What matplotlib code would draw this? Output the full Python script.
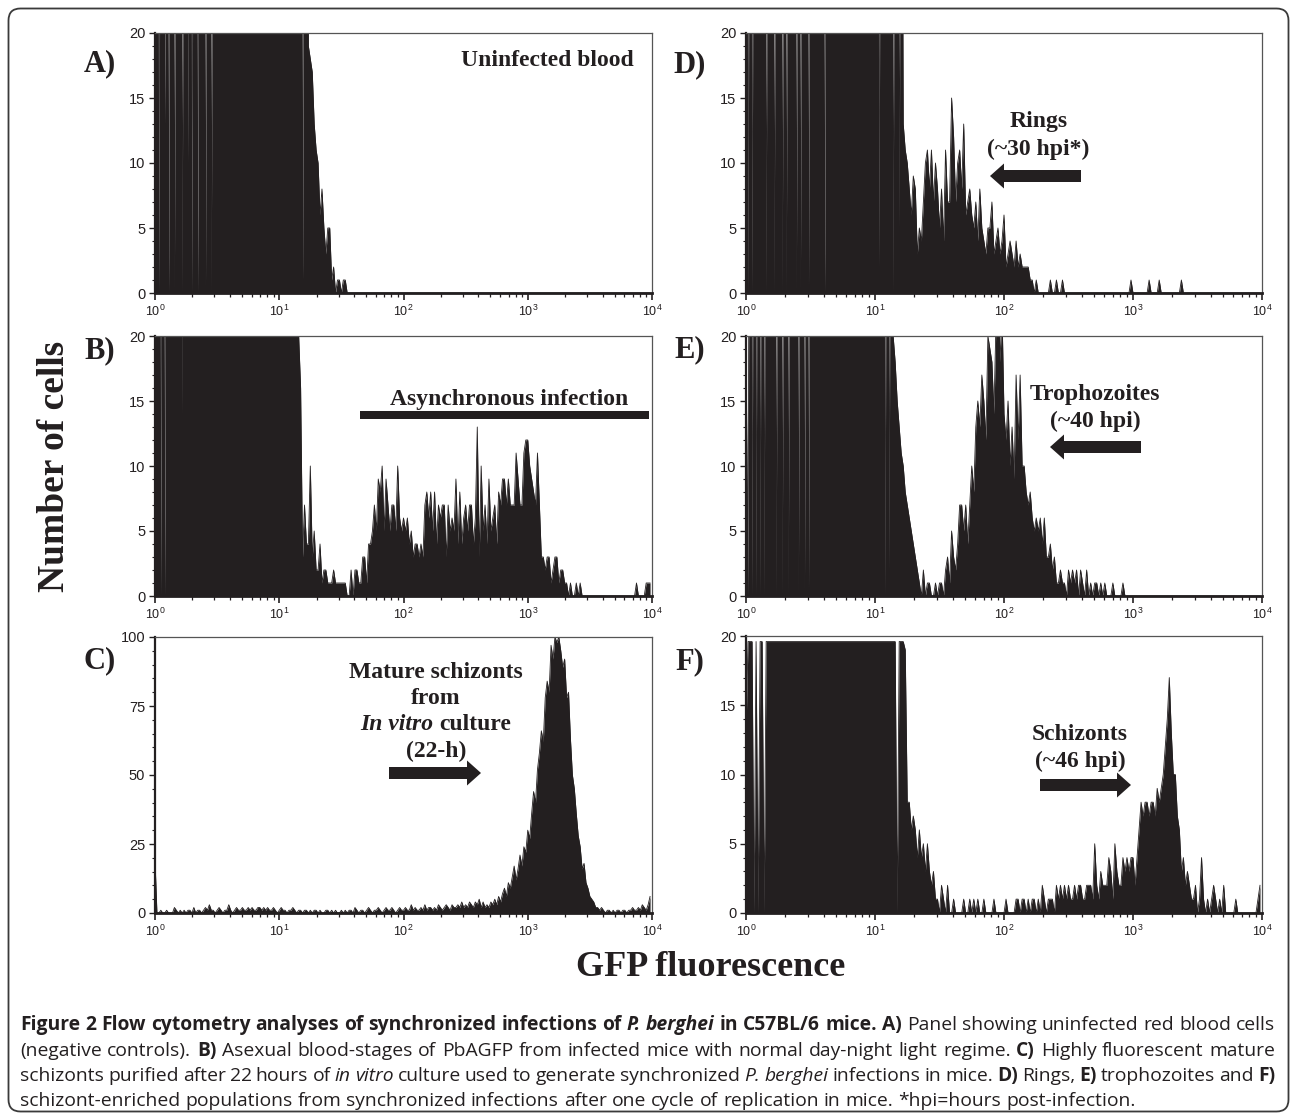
import numpy as np
import matplotlib
matplotlib.use("Agg")
import matplotlib.pyplot as plt
from matplotlib.patches import FancyArrow, FancyBboxPatch, Rectangle
from matplotlib.ticker import FixedLocator, MultipleLocator, NullFormatter
from matplotlib.font_manager import FontProperties

# 256 log channels over 4 decades (FACS histogram), counts
# values above the axis top are off-scale channels
n_channels = 256
per_decade = 64

counts_A = [
    7, 60, 0, 60, 60, 13, 60, 0, 60, 60, 0, 60, 16, 60, 0, 60,
    60, 10, 60, 0, 60, 60, 0, 60, 60, 60, 0, 60, 60, 0, 60, 60,
    60, 60, 60, 60, 60, 60, 60, 60, 60, 60, 60, 60, 60, 60, 60, 60,
    60, 60, 60, 60, 60, 60, 60, 60, 60, 60, 60, 60, 60, 60, 60, 60,
    60, 60, 60, 60, 60, 60, 60, 60, 60, 60, 60, 60, 1, 60, 60, 19,
    18, 17, 13, 11, 10, 6, 8, 5, 3, 5, 5, 1, 2, 0, 1, 1,
    0, 1, 1, 0, 0, 0, 0, 0, 0, 0, 0, 0, 0, 0, 0, 0,
    0, 0, 0, 0, 0, 0, 0, 0, 0, 0, 0, 0, 0, 0, 0, 0,
    0, 0, 0, 0, 0, 0, 0, 0, 0, 0, 0, 0, 0, 0, 0, 0,
    0, 0, 0, 0, 0, 0, 0, 0, 0, 0, 0, 0, 0, 0, 0, 0,
    0, 0, 0, 0, 0, 0, 0, 0, 0, 0, 0, 0, 0, 0, 0, 0,
    0, 0, 0, 0, 0, 0, 0, 0, 0, 0, 0, 0, 0, 0, 0, 0,
    0, 0, 0, 0, 0, 0, 0, 0, 0, 0, 0, 0, 0, 0, 0, 0,
    0, 0, 0, 0, 0, 0, 0, 0, 0, 0, 0, 0, 0, 0, 0, 0,
    0, 0, 0, 0, 0, 0, 0, 0, 0, 0, 0, 0, 0, 0, 0, 0,
    0, 0, 0, 0, 0, 0, 0, 0, 0, 0, 0, 0, 0, 0, 0, 0,
]

counts_B = [
    60, 60, 60, 0, 60, 0, 60, 60, 60, 60, 60, 60, 60, 60, 14, 60,
    60, 60, 60, 60, 60, 60, 60, 60, 60, 60, 60, 60, 60, 60, 60, 60,
    60, 60, 60, 60, 60, 60, 60, 60, 60, 60, 60, 60, 60, 60, 60, 60,
    60, 60, 60, 60, 60, 60, 60, 60, 60, 60, 60, 60, 60, 60, 60, 60,
    60, 60, 60, 60, 60, 60, 60, 60, 60, 60, 20, 16, 3, 7, 4, 4,
    10, 3, 5, 2, 2, 4, 1, 2, 2, 1, 1, 1, 2, 1, 1, 1,
    1, 1, 1, 0, 0, 2, 0, 2, 2, 1, 1, 3, 3, 1, 4, 4,
    5, 7, 5, 9, 8, 10, 5, 9, 7, 5, 7, 7, 5, 10, 6, 5,
    6, 5, 6, 4, 5, 3, 4, 4, 3, 4, 3, 7, 8, 6, 8, 5,
    8, 4, 7, 6, 7, 7, 3, 7, 5, 6, 5, 9, 4, 8, 4, 6,
    7, 5, 7, 7, 4, 6, 13, 3, 10, 5, 7, 4, 9, 5, 6, 7,
    4, 8, 7, 9, 9, 7, 9, 7, 7, 7, 11, 9, 7, 7, 11, 12,
    12, 10, 9, 8, 7, 11, 7, 3, 3, 2, 3, 3, 1, 2, 3, 3,
    1, 2, 2, 1, 1, 0, 1, 0, 0, 1, 0, 1, 0, 0, 0, 0,
    0, 0, 0, 0, 0, 0, 0, 0, 0, 0, 0, 0, 0, 0, 0, 0,
    0, 0, 0, 0, 0, 0, 0, 0, 1, 0, 0, 0, 0, 1, 1, 1,
]

counts_C = [
    19, 0, 0, 1, 0, 0, 1, 0, 0, 0, 2, 1, 0, 1, 0, 1,
    0, 1, 1, 0, 2, 0, 1, 1, 0, 1, 2, 1, 3, 1, 1, 0,
    1, 2, 1, 0, 1, 1, 3, 1, 0, 1, 2, 1, 1, 2, 1, 1,
    2, 1, 2, 1, 1, 2, 2, 1, 2, 1, 2, 1, 1, 2, 1, 0,
    1, 2, 1, 1, 0, 1, 1, 2, 1, 0, 1, 1, 0, 1, 1, 0,
    1, 0, 1, 1, 0, 1, 0, 0, 1, 1, 0, 1, 0, 1, 0, 0,
    1, 0, 1, 0, 1, 1, 0, 2, 1, 0, 1, 1, 0, 1, 2, 1,
    0, 1, 1, 2, 1, 0, 1, 2, 1, 1, 2, 1, 0, 1, 2, 1,
    1, 2, 1, 1, 3, 1, 2, 1, 1, 2, 1, 3, 1, 2, 2, 1,
    2, 1, 3, 2, 1, 2, 3, 2, 1, 3, 2, 2, 3, 2, 4, 2,
    3, 2, 4, 3, 2, 4, 3, 5, 2, 4, 2, 3, 2, 4, 3, 5,
    3, 6, 4, 7, 9, 6, 11, 9, 13, 17, 12, 16, 21, 17, 24, 22,
    30, 27, 36, 44, 40, 52, 58, 66, 62, 78, 84, 80, 97, 92, 100, 98,
    100, 95, 89, 92, 78, 80, 63, 50, 45, 36, 28, 24, 16, 18, 11, 9,
    6, 5, 4, 2, 2, 1, 2, 1, 0, 1, 1, 0, 1, 0, 1, 1,
    0, 1, 1, 0, 1, 1, 2, 1, 1, 2, 1, 3, 2, 1, 3, 6,
]

counts_D = [
    60, 0, 60, 0, 60, 60, 60, 60, 60, 60, 0, 60, 60, 60, 0, 60,
    60, 60, 0, 60, 0, 60, 60, 60, 60, 0, 60, 0, 60, 60, 60, 0,
    60, 60, 60, 60, 60, 60, 60, 0, 60, 60, 60, 60, 60, 60, 60, 60,
    60, 60, 60, 60, 60, 60, 60, 60, 60, 60, 60, 60, 60, 60, 60, 60,
    60, 60, 2, 60, 60, 60, 60, 60, 60, 0, 60, 60, 5, 60, 13, 11,
    10, 8, 6, 9, 8, 3, 5, 4, 7, 10, 11, 8, 11, 7, 10, 8,
    5, 8, 4, 11, 7, 7, 15, 12, 7, 10, 11, 8, 13, 6, 7, 8,
    6, 5, 7, 4, 8, 5, 4, 3, 5, 5, 7, 3, 4, 5, 3, 4,
    6, 2, 3, 4, 3, 2, 4, 2, 3, 2, 2, 2, 2, 1, 1, 0,
    1, 0, 0, 0, 0, 0, 0, 1, 0, 0, 1, 0, 0, 1, 0, 0,
    0, 0, 0, 0, 0, 0, 0, 0, 0, 0, 0, 0, 0, 0, 0, 0,
    0, 0, 0, 0, 0, 0, 0, 0, 0, 0, 0, 0, 0, 0, 0, 1,
    0, 0, 0, 0, 0, 0, 0, 0, 1, 0, 0, 0, 0, 1, 0, 0,
    0, 0, 0, 0, 0, 0, 0, 0, 1, 0, 0, 0, 0, 0, 0, 0,
    0, 0, 0, 0, 0, 0, 0, 0, 0, 0, 0, 0, 0, 0, 0, 0,
    0, 0, 0, 0, 0, 0, 0, 0, 0, 0, 0, 0, 0, 0, 0, 0,
]

counts_E = [
    20, 0, 60, 0, 60, 0, 60, 0, 60, 0, 60, 60, 60, 60, 60, 0,
    60, 60, 0, 60, 60, 0, 60, 60, 60, 60, 0, 60, 60, 0, 60, 0,
    60, 60, 60, 60, 60, 60, 60, 60, 60, 60, 60, 60, 60, 60, 60, 60,
    60, 60, 60, 60, 60, 60, 60, 60, 60, 60, 60, 60, 60, 60, 60, 60,
    60, 60, 60, 60, 60, 0, 60, 2, 60, 20, 18, 15, 13, 11, 10, 8,
    7, 6, 5, 4, 3, 2, 1, 0, 2, 0, 1, 1, 0, 0, 1, 0,
    1, 1, 0, 2, 3, 1, 5, 3, 2, 4, 7, 7, 5, 7, 4, 7,
    10, 8, 13, 15, 13, 17, 15, 12, 20, 19, 18, 14, 21, 25, 18, 22,
    14, 12, 15, 10, 13, 9, 17, 12, 17, 10, 10, 8, 7, 8, 6, 5,
    6, 5, 6, 4, 6, 3, 3, 4, 2, 3, 1, 1, 2, 1, 1, 0,
    2, 1, 2, 1, 2, 0, 2, 1, 0, 2, 0, 1, 0, 1, 1, 0,
    1, 0, 1, 0, 0, 0, 1, 0, 0, 0, 0, 1, 0, 0, 0, 0,
    0, 0, 0, 0, 0, 0, 0, 0, 0, 0, 0, 0, 0, 0, 0, 0,
    0, 0, 0, 0, 0, 0, 0, 0, 0, 0, 0, 0, 0, 0, 0, 0,
    0, 0, 0, 0, 0, 0, 0, 0, 0, 0, 0, 0, 0, 0, 0, 0,
    0, 0, 0, 0, 0, 0, 0, 0, 0, 0, 0, 0, 0, 0, 0, 0,
]

# panel F: the instrument clipped its display just under 20
counts_F = [
    13, 19.6, 19.6, 19.6, 0, 19.6, 0, 19.6, 19.6, 0, 19.6, 19.6, 19.6, 19.6, 19.6, 19.6,
    19.6, 19.6, 19.6, 19.6, 19.6, 19.6, 19.6, 19.6, 19.6, 19.6, 19.6, 19.6, 19.6, 19.6, 19.6, 19.6,
    19.6, 19.6, 19.6, 19.6, 19.6, 19.6, 19.6, 19.6, 19.6, 19.6, 19.6, 19.6, 19.6, 19.6, 19.6, 19.6,
    19.6, 19.6, 19.6, 19.6, 19.6, 19.6, 19.6, 19.6, 19.6, 19.6, 19.6, 19.6, 19.6, 19.6, 19.6, 19.6,
    19.6, 19.6, 19.6, 19.6, 19.6, 19.6, 19.6, 19.6, 19.6, 19.6, 19.6, 0, 19.6, 19.6, 19.6, 19,
    8, 8, 6, 7, 6, 4, 6, 4, 5, 3, 5, 3, 2, 3, 1, 1,
    0, 2, 1, 0, 2, 0, 0, 1, 0, 0, 0, 0, 1, 0, 0, 1,
    0, 1, 0, 1, 0, 0, 1, 0, 0, 0, 0, 1, 0, 0, 0, 0,
    0, 1, 0, 0, 0, 0, 1, 1, 0, 1, 1, 0, 1, 0, 1, 1,
    0, 1, 0, 2, 1, 0, 1, 1, 1, 0, 2, 1, 2, 1, 2, 1,
    2, 1, 1, 2, 1, 2, 2, 1, 1, 2, 2, 2, 1, 5, 2, 1,
    3, 2, 2, 2, 4, 3, 1, 5, 3, 2, 2, 4, 3, 4, 3, 4,
    4, 2, 4, 6, 8, 7, 8, 8, 7, 8, 8, 7, 9, 8, 9, 10,
    12, 14, 17, 13, 10, 10, 7, 6, 3, 4, 2, 3, 2, 1, 1, 2,
    0, 1, 4, 1, 0, 1, 0, 1, 2, 1, 0, 1, 0, 2, 0, 0,
    0, 0, 0, 1, 0, 0, 0, 0, 0, 0, 0, 0, 0, 0, 1, 2,
]

decades = [1, 10, 100, 1000, 10000]
decade_labels = ["$10^{0}$", "$10^{1}$", "$10^{2}$", "$10^{3}$", "$10^{4}$"]

INK = "#231f20"
W, H = 1290, 1116

plt.rcParams["mathtext.fontset"] = "custom"
plt.rcParams["mathtext.rm"] = "Liberation Sans"
plt.rcParams["mathtext.it"] = "Liberation Sans:italic"
plt.rcParams["mathtext.bf"] = "Liberation Sans:bold"

fig = plt.figure(figsize=(W / 100, H / 100), dpi=100)
renderer = fig.canvas.get_renderer()

SERIF = "Liberation Serif"
gfp = 10 ** (np.arange(n_channels) / per_decade)


def fx(x):
    return x / W


def fy(y):
    return 1 - y / H


def text_w(s, fp):
    return renderer.get_text_width_height_descent(s, fp, ismath=False)[0]


def add_panel(box, counts, ymax, ystep, yminor):
    left, top, right, bottom = box
    ax = fig.add_axes([fx(left), fy(bottom), (right - left) / W, (bottom - top) / H])
    ax.set_xscale("log")
    ax.fill_between(gfp, counts, 0, color=INK, lw=0)
    ax.plot(gfp, counts, color=INK, lw=0.6)
    ax.set_xlim(1, 1e4)
    ax.set_ylim(0, ymax)
    ax.xaxis.set_major_locator(FixedLocator(decades))
    ax.set_xticklabels(decade_labels)
    ax.xaxis.set_minor_locator(FixedLocator(
        [d * k for d in decades[:-1] for k in range(2, 10)]))
    ax.xaxis.set_minor_formatter(NullFormatter())
    ax.yaxis.set_major_locator(MultipleLocator(ystep))
    ax.yaxis.set_minor_locator(MultipleLocator(yminor))
    ax.tick_params(axis="x", which="major", direction="out", length=5, width=1.2,
                   labelsize=9, pad=3, colors=INK)
    ax.tick_params(axis="x", which="minor", direction="out", length=3, width=0.9, colors=INK)
    ax.tick_params(axis="y", which="major", direction="out", length=4, width=1.0,
                   labelsize=10.5, pad=3, colors=INK)
    ax.tick_params(axis="y", which="minor", direction="out", length=2, width=0.8, colors=INK)
    for lab in ax.get_yticklabels():
        lab.set_family("Liberation Sans")
    ax.spines["left"].set_linewidth(1.6)
    ax.spines["bottom"].set_linewidth(2.0)
    for s in ("top", "right"):
        ax.spines[s].set_linewidth(0.9)
        ax.spines[s].set_color("#555555")
    for s in ("left", "bottom"):
        ax.spines[s].set_color(INK)
    return ax


left_x = (155, 652)
right_x = (746, 1262)
add_panel((left_x[0], 33, left_x[1], 293), counts_A, 20, 5, 1)
add_panel((left_x[0], 336, left_x[1], 596), counts_B, 20, 5, 1)
add_panel((left_x[0], 637, left_x[1], 913), counts_C, 100, 25, 5)
add_panel((right_x[0], 33, right_x[1], 293), counts_D, 20, 5, 1)
add_panel((right_x[0], 336, right_x[1], 596), counts_E, 20, 5, 1)
add_panel((right_x[0], 636, right_x[1], 913), counts_F, 20, 5, 1)

# panel letters
for letter, x, y in [("A)", 100, 64), ("B)", 100, 351), ("C)", 100, 661),
                     ("D)", 690, 65), ("E)", 690, 350), ("F)", 690, 662)]:
    fig.text(fx(x), fy(y), letter, family=SERIF, weight="bold", size=22,
             ha="center", va="center", color=INK)

NOTE = 17


def note(x, y, s):
    fig.text(fx(x), fy(y), s, family=SERIF, weight="bold", size=NOTE,
             ha="center", va="center", color=INK)


def arrow(x0, x1, y):
    fig.add_artist(FancyArrow(x0 / 100, (H - y) / 100, (x1 - x0) / 100, 0,
                              width=0.12, head_width=0.25, head_length=0.14,
                              length_includes_head=True, color=INK, lw=0,
                              transform=fig.dpi_scale_trans))


note(547, 61, "Uninfected blood")
note(509, 399, "Asynchronous infection")
fig.add_artist(Rectangle((3.60, (H - 419) / 100), 2.89, 0.08, color=INK, lw=0,
                         transform=fig.dpi_scale_trans))

note(436, 673, "Mature schizonts")
note(436, 699, "from")
fp_bi = FontProperties(family=SERIF, weight="bold", style="italic", size=NOTE)
fp_b = FontProperties(family=SERIF, weight="bold", size=NOTE)
space_b = text_w("a a", fp_b) - text_w("aa", fp_b)
w1 = text_w("In vitro", fp_bi)
w2 = text_w("culture", fp_b)
x_start = 436 - (w1 + space_b + w2) / 2
fig.text(fx(x_start), fy(725), "In vitro", fontproperties=fp_bi, ha="left", va="center",
         color=INK)
fig.text(fx(x_start + w1 + space_b), fy(725), "culture", fontproperties=fp_b, ha="left",
         va="center", color=INK)
note(436, 751, "(22-h)")
arrow(389, 481, 773)

note(1039, 122, "Rings")
note(1038, 149, "(~30 hpi*)")
arrow(1081, 990, 176)

note(1095, 394, "Trophozoites")
note(1095, 421, "(~40 hpi)")
arrow(1141, 1050, 447)

note(1080, 734, "Schizonts")
note(1080, 761, "(~46 hpi)")
arrow(1040, 1131, 785)

# shared axis titles
fig.text(fx(55), fy(466), "Number of cells", family=SERIF, weight="bold", size=27,
         rotation=90, ha="center", va="center", color=INK)
fig.text(fx(711), fy(967), "GFP fluorescence", family=SERIF, weight="bold", size=26,
         ha="center", va="center", color=INK)

# caption (justified like the journal page)
CAP = "Open Sans"
caption = [
    [("Figure 2 Flow cytometry analyses of synchronized infections of ", "bold", "normal"),
     ("P. berghei", "bold", "italic"),
     (" in C57BL/6 mice. A)", "bold", "normal"),
     (" Panel showing uninfected red blood cells", "normal", "normal")],
    [("(negative controls). ", "normal", "normal"), ("B)", "bold", "normal"),
     (" Asexual blood-stages of PbAGFP from infected mice with normal day-night light regime. ",
      "normal", "normal"),
     ("C)", "bold", "normal"), (" Highly fluorescent mature", "normal", "normal")],
    [("schizonts purified after 22 hours of ", "normal", "normal"),
     ("in vitro", "normal", "italic"),
     (" culture used to generate synchronized ", "normal", "normal"),
     ("P. berghei", "normal", "italic"), (" infections in mice. ", "normal", "normal"),
     ("D)", "bold", "normal"), (" Rings, ", "normal", "normal"), ("E)", "bold", "normal"),
     (" trophozoites and ", "normal", "normal"), ("F)", "bold", "normal")],
    [("schizont-enriched populations from synchronized infections after one cycle of "
      "replication in mice. *hpi=hours post-infection.", "normal", "normal")],
]
caption_base = [1030, 1056, 1081, 1106]
cap_left, cap_width = 20, 1255


def tokens(line, size):
    items = []
    for s, wt, st in line:
        fp = FontProperties(family=CAP, weight=wt, style=st, size=size)
        parts = s.split(" ")
        for i, part in enumerate(parts):
            if i > 0:
                items.append(("space", text_w("a a", fp) - text_w("aa", fp), fp))
            if part:
                items.append(("word", part, fp))
    return items


def natural_width(line, size):
    total = 0
    for kind, val, fp in tokens(line, size):
        total += val if kind == "space" else text_w(val, fp)
    return total


def draw_line(line, size, y, justify):
    items = tokens(line, size)
    words = sum(text_w(v, fp) for k, v, fp in items if k == "word")
    n_sp = sum(1 for k, v, fp in items if k == "space")
    x = cap_left
    for kind, val, fp in items:
        if kind == "space":
            x += (cap_width - words) / n_sp if justify else val
        else:
            fig.text(fx(x), fy(y), val, fontproperties=fp, ha="left", va="baseline",
                     color=INK)
            x += text_w(val, fp)


cap_size = 10 * cap_width / natural_width(caption[0], 10)
for i, (line, yb) in enumerate(zip(caption, caption_base)):
    draw_line(line, cap_size, yb, justify=i < 3)

# rounded frame
fig.add_artist(FancyBboxPatch((0.085, 0.045), 12.80, 11.03,
                              boxstyle="round,pad=0,rounding_size=0.12",
                              fill=False, ec="#3a3a3a", lw=1.3,
                              transform=fig.dpi_scale_trans))

fig.savefig("out.png", dpi=100)
